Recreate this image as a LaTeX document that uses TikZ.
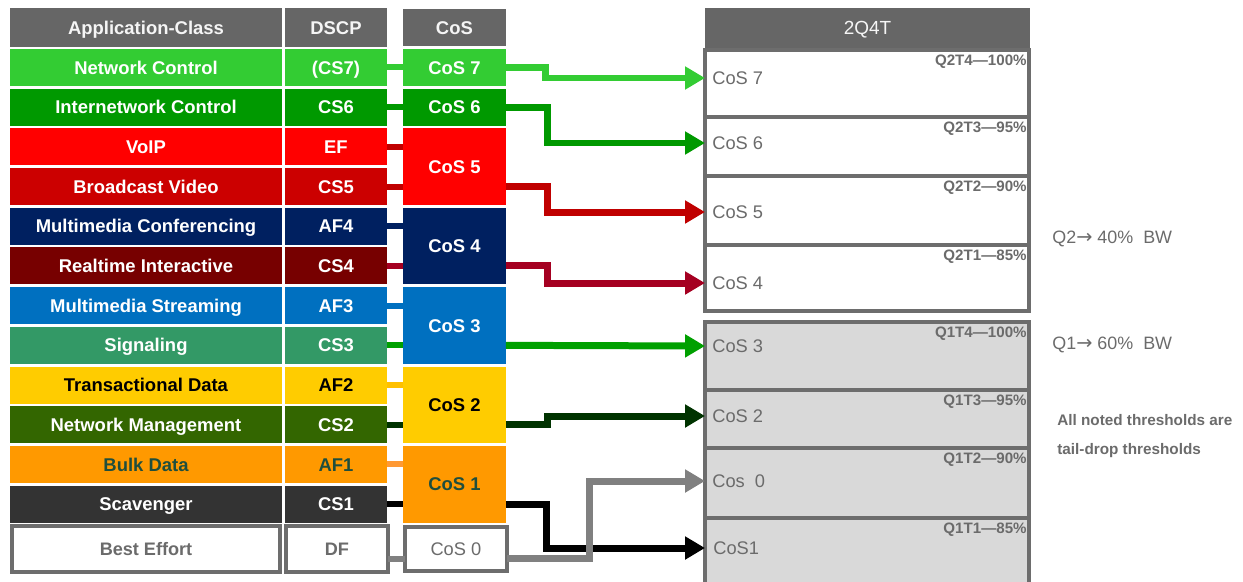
\documentclass[tikz,border=0pt]{standalone}
\usepackage{fontspec}
\setmainfont{Liberation Sans}
\newfontfamily\arrowfont{DejaVu Sans}
\usepackage{xcolor}
\definecolor{hdrgray}{HTML}{666666}
\definecolor{cNetCtl}{HTML}{33CC33}
\definecolor{cInet}{HTML}{009900}
\definecolor{cVoip}{HTML}{FF0000}
\definecolor{cBcast}{HTML}{CC0000}
\definecolor{cMmConf}{HTML}{002060}
\definecolor{cRtInt}{HTML}{770000}
\definecolor{cMmStr}{HTML}{0070C0}
\definecolor{cSignal}{HTML}{339966}
\definecolor{cTrans}{HTML}{FFCC00}
\definecolor{cNetMgmt}{HTML}{336600}
\definecolor{cBulk}{HTML}{FF9900}
\definecolor{cScav}{HTML}{333333}
\definecolor{bulktext}{HTML}{1F4E3D}
\definecolor{boxgray}{HTML}{6D6D6D}
\definecolor{txtgray}{HTML}{6B6B6B}
\definecolor{qfill}{HTML}{D9D9D9}
\definecolor{linkRed}{HTML}{C00000}
\definecolor{linkMaroon}{HTML}{A50021}
\definecolor{linkGreen}{HTML}{00A000}
\definecolor{linkDkGreen}{HTML}{003300}
\definecolor{linkAmber}{HTML}{FFC000}
\definecolor{linkOrange}{HTML}{FF9933}
\definecolor{linkGray}{HTML}{808080}
\usepackage{tikz}
\usetikzlibrary{arrows.meta, positioning}

\begin{document}
\begin{tikzpicture}[
	x=0.02cm, y=-0.02cm,
	node distance=0.054cm and 0.06cm,
	cell/.style={rectangle, inner sep=0pt, outer sep=0pt, minimum height=0.74cm, text height=10pt, text depth=2.5pt, text=white, font=\fontsize{10.5}{12}\selectfont\bfseries},
	hdr/.style={cell, fill=hdrgray, minimum height=0.78cm, text=black!4},
	appw/.style={minimum width=5.44cm},
	dscpw/.style={minimum width=2.04cm},
	cosw/.style={minimum width=2.06cm},
	twinrow/.style={minimum height=1.534cm},
	bestbox/.style={rectangle, inner sep=0pt, outer sep=0pt, draw=boxgray, line width=0.08cm, fill=white, text=txtgray, minimum height=0.92cm, text height=10pt, text depth=2.5pt, font=\fontsize{10.3}{12}\selectfont\bfseries},
	stub/.style={line width=0.12cm},
	arr/.style={line width=0.14cm, -{Triangle[length=0.4cm, width=0.44cm]}},
	queue/.style={rectangle, inner sep=0pt, outer sep=0pt, draw=boxgray, line width=0.08cm, minimum width=6.48cm},
	qlabel/.style={anchor=west, inner sep=0pt, text=txtgray, font=\fontsize{10.4}{12}\selectfont},
	qthr/.style={anchor=north east, inner sep=0pt, text=txtgray, font=\fontsize{8.6}{10}\selectfont\bfseries},
	note/.style={anchor=west, inner sep=0pt, text=txtgray, font=\fontsize{10.2}{12}\selectfont}
	]
	\useasboundingbox (0,0) rectangle (1243,581);

	\node[hdr, appw] (happ) at (146,27.5) {Application-Class};
	\node[hdr, dscpw, right=0.06cm of happ] (hdscp) {DSCP};
	\node[hdr, cosw, minimum height=0.76cm, right=0.32cm of hdscp] (hcos) {CoS};
	\node[hdr, minimum width=6.5cm, minimum height=0.8cm, font=\fontsize{10.8}{12}\selectfont] (h2q4t) at (867.5,28) {2Q4T};

	\node[cell, appw, fill=cNetCtl, below=0.04cm of happ] (netctl) {Network Control};
	\node[cell, appw, fill=cInet, below=of netctl] (inetctl) {Internetwork Control};
	\node[cell, appw, fill=cVoip, below=of inetctl] (voip) {VoIP};
	\node[cell, appw, fill=cBcast, below=of voip] (bcast) {Broadcast Video};
	\node[cell, appw, fill=cMmConf, below=of bcast] (mmconf) {Multimedia Conferencing};
	\node[cell, appw, fill=cRtInt, below=of mmconf] (rtint) {Realtime Interactive};
	\node[cell, appw, fill=cMmStr, below=of rtint] (mmstream) {Multimedia Streaming};
	\node[cell, appw, fill=cSignal, below=of mmstream] (signal) {Signaling};
	\node[cell, appw, fill=cTrans, text=black, below=of signal] (trans) {Transactional Data};
	\node[cell, appw, fill=cNetMgmt, below=of trans] (netmgmt) {Network Management};
	\node[cell, appw, fill=cBulk, text=bulktext, below=of netmgmt] (bulk) {Bulk Data};
	\node[cell, appw, fill=cScav, below=of bulk] (scav) {Scavenger};
	\node[bestbox, minimum width=5.36cm, below=0.066cm of scav] (best) {Best Effort};

	\node[cell, dscpw, fill=cNetCtl, right=of netctl] (cs7) {(CS7)};
	\node[cell, dscpw, fill=cInet, right=of inetctl] (cs6) {CS6};
	\node[cell, dscpw, fill=cVoip, right=of voip] (ef) {EF};
	\node[cell, dscpw, fill=cBcast, right=of bcast] (cs5) {CS5};
	\node[cell, dscpw, fill=cMmConf, right=of mmconf] (af4) {AF4};
	\node[cell, dscpw, fill=cRtInt, right=of rtint] (cs4) {CS4};
	\node[cell, dscpw, fill=cMmStr, right=of mmstream] (af3) {AF3};
	\node[cell, dscpw, fill=cSignal, right=of signal] (cs3) {CS3};
	\node[cell, dscpw, fill=cTrans, text=black, right=of trans] (af2) {AF2};
	\node[cell, dscpw, fill=cNetMgmt, right=of netmgmt] (cs2) {CS2};
	\node[cell, dscpw, fill=cBulk, text=bulktext, right=of bulk] (af1) {AF1};
	\node[cell, dscpw, fill=cScav, right=of scav] (cs1) {CS1};
	\node[bestbox, minimum width=2.04cm, right=0.12cm of best] (df) {DF};

	\node[cell, cosw, fill=cNetCtl, right=0.32cm of cs7] (cos7) {CoS 7};
	\node[cell, cosw, fill=cInet, right=0.32cm of cs6] (cos6) {CoS 6};
	\node[cell, cosw, twinrow, fill=cVoip, below=of cos6] (cos5) {CoS 5};
	\node[cell, cosw, twinrow, fill=cMmConf, below=of cos5] (cos4) {CoS 4};
	\node[cell, cosw, twinrow, fill=cMmStr, below=of cos4] (cos3) {CoS 3};
	\node[cell, cosw, twinrow, fill=cTrans, text=black, below=of cos3] (cos2) {CoS 2};
	\node[cell, cosw, twinrow, fill=cBulk, text=bulktext, below=of cos2] (cos1) {CoS 1};
	\node[bestbox, minimum width=2.04cm, minimum height=0.88cm, font=\fontsize{10.4}{12}\selectfont, right=0.34cm of df] (cos0) {CoS 0};

	\node[queue, fill=white, minimum height=1.34cm] (q7) at (867,83.5) {};
	\node[queue, fill=white, minimum height=1.18cm, below=0pt of q7] (q6) {};
	\node[queue, fill=white, minimum height=1.38cm, below=0pt of q6] (q5) {};
	\node[queue, fill=white, minimum height=1.32cm, below=0pt of q5] (q4) {};
	\node[queue, fill=qfill, minimum height=1.36cm] (q3) at (867,356) {};
	\node[queue, fill=qfill, minimum height=1.16cm, below=0pt of q3] (q2) {};
	\node[queue, fill=qfill, minimum height=1.40cm, below=0pt of q2] (q0) {};
	\node[queue, fill=qfill, minimum height=1.34cm, below=0pt of q0] (q1) {};

	\node[qthr] (t7) at ([xshift=-0.04cm, yshift=-0.1cm]q7.north east) {Q2T4—100\%};
	\node[qthr] (t6) at ([xshift=-0.04cm, yshift=-0.1cm]q6.north east) {Q2T3—95\%};
	\node[qthr] (t5) at ([xshift=-0.04cm, yshift=-0.1cm]q5.north east) {Q2T2—90\%};
	\node[qthr] (t4) at ([xshift=-0.04cm, yshift=-0.1cm]q4.north east) {Q2T1—85\%};
	\node[qthr] (t3) at ([xshift=-0.04cm, yshift=-0.1cm]q3.north east) {Q1T4—100\%};
	\node[qthr] (t2) at ([xshift=-0.04cm, yshift=-0.1cm]q2.north east) {Q1T3—95\%};
	\node[qthr] (t0) at ([xshift=-0.04cm, yshift=-0.1cm]q0.north east) {Q1T2—90\%};
	\node[qthr] (t1) at ([xshift=-0.04cm, yshift=-0.1cm]q1.north east) {Q1T1—85\%};

	\node[qlabel] (l7) at (712,78) {CoS 7};
	\node[qlabel] (l6) at (712,143) {CoS 6};
	\node[qlabel] (l5) at (712,212) {CoS 5};
	\node[qlabel] (l4) at (712,283) {CoS 4};
	\node[qlabel] (l3) at (712,346) {CoS 3};
	\node[qlabel] (l2) at (712,416) {CoS 2};
	\node[qlabel] (l0) at (712,481) {Cos\ \ 0};
	\node[qlabel] (l1) at (713,548) {CoS1};

	\node[note] (bw2) at (1052,239) {Q2{\arrowfont\fontsize{11}{12}\selectfont →} 40\%\ \ BW};
	\node[note] (bw1) at (1052,345) {Q1{\arrowfont\fontsize{11}{12}\selectfont →} 60\%\ \ BW};
	\node[note, align=left, font=\fontsize{8.7}{16.4}\selectfont\bfseries] (taildrop) at (1057,436) {All noted thresholds are\\tail-drop thresholds};

	\draw[stub, cNetCtl] (cs7.east) -- (cs7.east -| cos7.west);
	\draw[stub, cInet] (cs6.east) -- (cs6.east -| cos6.west);
	\draw[stub, linkRed] (ef.east) -- (ef.east -| cos5.west);
	\draw[stub, linkRed] (cs5.east) -- (cs5.east -| cos5.west);
	\draw[stub, cMmConf] (af4.east) -- (af4.east -| cos4.west);
	\draw[stub, linkMaroon] (cs4.east) -- (cs4.east -| cos4.west);
	\draw[stub, cMmStr] (af3.east) -- (af3.east -| cos3.west);
	\draw[stub, linkGreen] (cs3.east) -- (cs3.east -| cos3.west);
	\draw[stub, linkAmber] (af2.east) -- (af2.east -| cos2.west);
	\draw[stub, linkDkGreen] (cs2.east) -- (cs2.east -| cos2.west);
	\draw[stub, linkOrange] (af1.east) -- (af1.east -| cos1.west);
	\draw[stub, black] (cs1.east) -- (cs1.east -| cos1.west);
	\draw[stub, linkGray] ([yshift=-0.2cm]df.east) -- ([yshift=-0.2cm]df.east -| cos0.west);

	\draw[arr, cNetCtl] (cos7.east) -- ++(0.8cm,0) |- (q7.west |- l7);
	\draw[arr, cInet] (cos6.east) -- ++(0.84cm,0) |- (q6.west |- l6);
	\draw[arr, linkRed] (cos5.east |- cs5) -- ++(0.84cm,0) |- (q5.west |- l5);
	\draw[arr, linkMaroon] (cos4.east |- cs4) -- ++(0.84cm,0) |- (q4.west |- l4);
	\draw[arr, linkGreen] (cos3.east |- cs3) -- (q3.west |- l3);
	\draw[arr, linkDkGreen] (cos2.east |- cs2) -- ++(0.84cm,0) |- (q2.west |- l2);
	\draw[arr, black] (cos1.east |- cs1) -- ++(0.82cm,0) |- (q1.west |- l1);
	\draw[arr, linkGray] ([yshift=-0.2cm]cos0.east) -- ++(1.66cm,0) |- (q0.west |- l0);
\end{tikzpicture}
\end{document}
